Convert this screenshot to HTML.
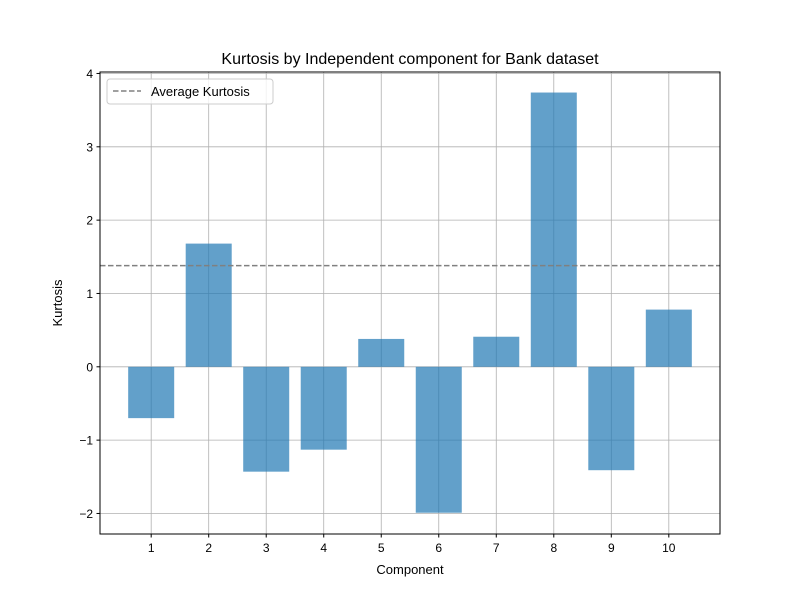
<!DOCTYPE html>
<html><head><meta charset="utf-8"><style>
body{margin:0;background:#fff}
svg{font-family:"Liberation Sans","DejaVu Sans",sans-serif}
</style></head><body>
<svg id="chart" width="800" height="600">
<rect x="0" y="0" width="800" height="600" fill="#fff"/>
<g id="grid"></g>
<g id="bars"></g>
<g id="avg"></g>
<rect x="100" y="72" width="620" height="462" fill="none" stroke="#000" stroke-width="1"/>
<g id="xt"></g><g id="yt"></g>
<text x="410" y="64" text-anchor="middle" font-size="16">Kurtosis by Independent component for Bank dataset</text>
<text x="410" y="574" text-anchor="middle" font-size="13">Component</text>
<text transform="translate(62,303) rotate(-90)" text-anchor="middle" font-size="13">Kurtosis</text>
<g>
<rect x="107" y="79" width="166" height="25" rx="3" fill="#fff" fill-opacity="0.8" stroke="#ccc"/>
<line x1="113" y1="91" x2="141" y2="91" stroke="#808080" stroke-width="1.5" stroke-dasharray="5.5,2.5"/>
<text x="151" y="96" font-size="13">Average Kurtosis</text>
</g>
</svg>
<script>
const categories=[1,2,3,4,5,6,7,8,9,10];
const kurtosis=[-0.70,1.68,-1.43,-1.13,0.38,-1.99,0.41,3.74,-1.41,0.78];
const averageKurtosis=1.38;
const yTicks=[-2,-1,0,1,2,3,4];
const NS="http://www.w3.org/2000/svg";
const L=100,R=720,T=72,B=534;
const xmin=0.11,xmax=10.89,ymin=-2.28,ymax=4.02;
const xs=v=>L+(v-xmin)/(xmax-xmin)*(R-L);
const ys=v=>B-(v-ymin)/(ymax-ymin)*(B-T);
function mk(tag,attrs,parent,txt){const e=document.createElementNS(NS,tag);for(const k in attrs)e.setAttribute(k,attrs[k]);if(txt!==undefined)e.textContent=txt;document.getElementById(parent).appendChild(e);return e;}
categories.forEach(c=>{const g=mk('line',{x1:xs(c),x2:xs(c),y1:T,y2:B,stroke:'#b0b0b0','stroke-width':0.8},'grid');


const t=mk('line',{x1:xs(c),x2:xs(c),y1:B,y2:B+3.5,stroke:'#000'},'xt');


const l=mk('text',{x:xs(c),y:B+18,'text-anchor':'middle','font-size':12},'xt',String(c));

});
yTicks.forEach(v=>{const g=mk('line',{x1:L,x2:R,y1:ys(v),y2:ys(v),stroke:'#b0b0b0','stroke-width':0.8},'grid');


const t=mk('line',{x1:L-3.5,x2:L,y1:ys(v),y2:ys(v),stroke:'#000'},'yt');


const l=mk('text',{x:L-7,y:ys(v)+4.5,'text-anchor':'end','font-size':12},'yt',v<0?'\u2212'+Math.abs(v):String(v));

});
categories.forEach((c,i)=>{const v=kurtosis[i];const x0=xs(c-0.4),x1=xs(c+0.4);
const b=mk('rect',{x:x0,width:x1-x0,y:Math.min(ys(v),ys(0)),height:Math.abs(ys(v)-ys(0)),fill:'#1f77b4','fill-opacity':0.7},'bars');

});
const a=mk('line',{x1:L,x2:R,y1:ys(averageKurtosis),y2:ys(averageKurtosis),stroke:'#808080','stroke-width':1.5,'stroke-dasharray':'5.5,2.5'},'avg');


</script>
</body></html>
